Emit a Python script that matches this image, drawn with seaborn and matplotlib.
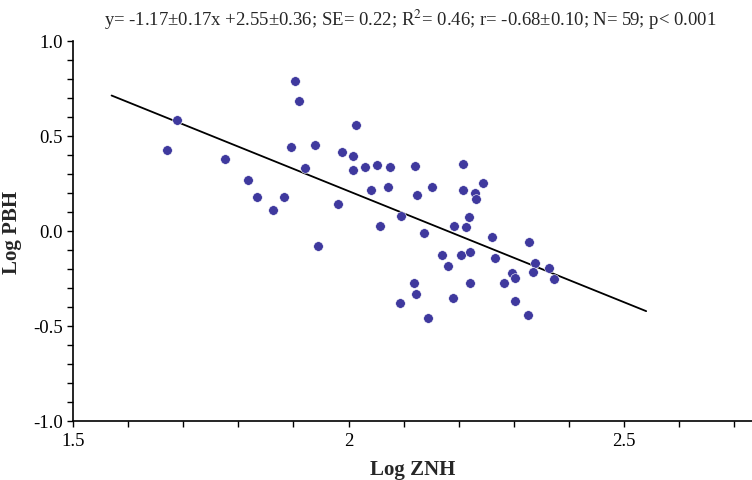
import numpy as np
import pandas as pd
import seaborn as sns
import matplotlib.pyplot as plt
from matplotlib.ticker import MultipleLocator, FuncFormatter

# dados (Log ZNH, Log PBH)
log_znh = [1.688, 1.670, 1.775, 1.818, 1.833, 1.862, 1.882, 1.895, 1.902, 1.910,
           1.921, 1.939, 1.945, 2.014, 1.988, 2.008, 2.008, 2.029, 2.052, 2.076,
           2.121, 2.208, 2.040, 2.072, 2.124, 2.152, 2.208, 2.230, 2.231, 2.244,
           1.980, 2.096, 2.218, 2.057, 2.192, 2.213, 2.136, 2.261, 2.327, 2.169,
           2.204, 2.221, 2.266, 2.181, 2.338, 2.334, 2.363, 2.297, 2.302, 2.282,
           2.221, 2.118, 2.123, 2.093, 2.190, 2.302, 2.144, 2.325, 2.372]
log_pbh = [0.584, 0.426, 0.379, 0.270, 0.181, 0.111, 0.181, 0.440, 0.791, 0.686,
           0.332, 0.451, -0.077, 0.560, 0.417, 0.393, 0.321, 0.335, 0.347, 0.339,
           0.344, 0.353, 0.216, 0.232, 0.188, 0.232, 0.218, 0.200, 0.167, 0.254,
           0.142, 0.081, 0.072, 0.028, 0.026, 0.023, -0.011, -0.030, -0.058, -0.125,
           -0.128, -0.112, -0.140, -0.184, -0.170, -0.214, -0.193, -0.219, -0.246, -0.272,
           -0.275, -0.272, -0.330, -0.377, -0.353, -0.368, -0.456, -0.440, -0.253]

# reta de regressao publicada
slope = -1.17
intercept = 2.55
reta_x = [1.57, 2.54]

titulo = ("y= -1.17\u00b10.17x +2.55\u00b10.36; SE= 0.22; R$^2$= 0.46; "
          "r= -0.68\u00b10.10; N= 59; p< 0.001")

df = pd.DataFrame({'Log ZNH': log_znh, 'Log PBH': log_pbh})
df_reta = pd.DataFrame({'x': reta_x, 'y': [slope * v + intercept for v in reta_x]})

sns.set_style("ticks")
plt.rcParams['font.family'] = ['Liberation Serif', 'DejaVu Serif']
plt.rcParams['mathtext.fontset'] = 'stix'

fig = plt.figure(figsize=(7.52, 4.81), dpi=100)
ax = fig.add_axes([73 / 752, 59 / 481, 679 / 752, 380 / 481])

sns.lineplot(data=df_reta, x='x', y='y', color='black', linewidth=1.3, ax=ax)
sns.scatterplot(data=df, x='Log ZNH', y='Log PBH', color='#3f399e', s=48,
                edgecolor='white', linewidth=0.4, ax=ax, zorder=3)

ax.set_xlim(1.5, 2.732)
ax.set_ylim(-1.0, 1.0)
ax.xaxis.set_major_locator(MultipleLocator(0.5))
ax.xaxis.set_minor_locator(MultipleLocator(0.1))
ax.yaxis.set_major_locator(MultipleLocator(0.5))
ax.yaxis.set_minor_locator(MultipleLocator(0.1))
ax.xaxis.set_major_formatter(FuncFormatter(lambda v, p: f"{v:g}"))
ax.yaxis.set_major_formatter(FuncFormatter(lambda v, p: f"{v:.1f}"))
ax.tick_params(which='both', direction='out', length=4, width=1, labelsize=13.5,
               color='black', labelcolor='black')
ax.tick_params(axis='x', pad=4)

sns.despine(ax=ax)
for lado in ['left', 'bottom']:
    ax.spines[lado].set_linewidth(1.2)
    ax.spines[lado].set_color('black')

ax.set_xlabel('Log ZNH', fontsize=15, fontweight='bold', labelpad=7)
ax.set_ylabel('Log PBH', fontsize=15, fontweight='bold', labelpad=8)
fig.text(410 / 752, 1 - 20 / 481, titulo, ha='center', va='center', fontsize=13.5)

plt.savefig('out.png', dpi=100)
